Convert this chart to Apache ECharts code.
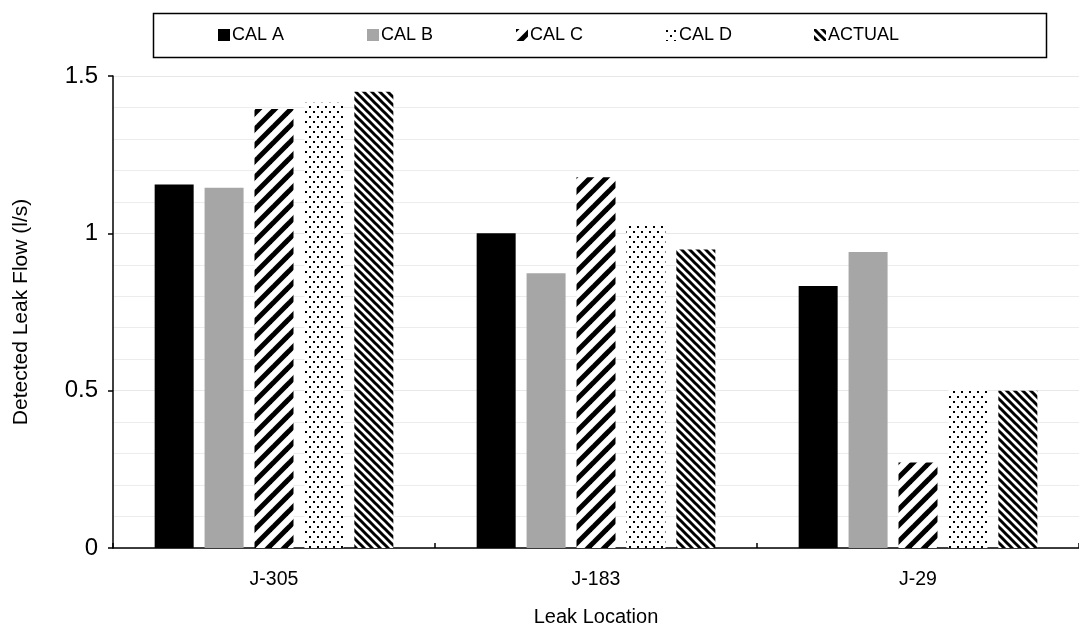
<!DOCTYPE html>
<html>
<head>
<meta charset="utf-8">
<title>Detected Leak Flow</title>
<script src="https://cdn.jsdelivr.net/npm/echarts@6/dist/echarts.min.js"></script>
<style>
  html, body { margin: 0; padding: 0; background: #fff; }
  #chart { width: 1079px; height: 632px; }
</style>
</head>
<body>
<div id="chart"></div>
<script>
// leak locations on the x axis
var categories = ['J-305', 'J-183', 'J-29']
// detected leak flow (l/s)
var calA = [1.155, 1.0, 0.833]
var calB = [1.145, 0.873, 0.941]
var calC = [1.395, 1.178, 0.272]
var calD = [1.415, 1.03, 0.502]
var actual = [1.45, 0.949, 0.5]
var seriesNames = ['CAL A', 'CAL B', 'CAL C', 'CAL D', 'ACTUAL']

// small canvas tiles used as fill patterns (like the excel hatch fills)
function tile (w, h, draw) {
  var c = document.createElement('canvas')
  c.width = w
  c.height = h
  var ctx = c.getContext('2d')
  ctx.fillStyle = '#fff'
  ctx.fillRect(0, 0, w, h)
  draw(ctx)
  return { image: c, repeat: 'repeat' }
}

// wide upward diagonal  "/"
var wideUp = tile(16, 16, function (ctx) {
  ctx.strokeStyle = '#000'
  ctx.lineWidth = 5
  ;[0, 16, 32].forEach(function (c) {
    ctx.beginPath()
    ctx.moveTo(c + 4, -4)
    ctx.lineTo(c - 20, 20)
    ctx.stroke()
  })
})
// dotted
var dots = tile(8, 10, function (ctx) {
  ctx.fillStyle = '#000'
  ctx.fillRect(1, 1, 2, 2)
  ctx.fillRect(5, 6, 2, 2)
})
// dark downward diagonal "\"
var darkDown = tile(8, 8, function (ctx) {
  ctx.strokeStyle = '#000'
  ctx.lineWidth = 3
  ;[-8, 0, 8].forEach(function (c) {
    ctx.beginPath()
    ctx.moveTo(c - 4, -4)
    ctx.lineTo(c + 12, 12)
    ctx.stroke()
  })
})

var fills = ['#000000', '#a6a6a6', wideUp, dots, darkDown]
var values = [calA, calB, calC, calD, actual]

// one legend per series so the slots are evenly spaced like in excel
var legendLeft = [218, 367, 516, 665, 814]
var legends = seriesNames.map(function (name, i) {
  return {
    top: 26,
    left: legendLeft[i],
    padding: 0,
    itemWidth: 12,
    itemHeight: 12,
    icon: 'rect',
    textStyle: { fontSize: 18, color: '#000', padding: [0, 0, 0, -3] },
    data: [name]
  }
})

var myChart = echarts.init(document.getElementById('chart'))

var option = {
  animation: false,
  textStyle: { fontFamily: 'Liberation Sans, Arial, sans-serif' },
  legend: legends,
  graphic: [{
    type: 'rect',
    left: 151,
    top: 11,
    shape: { width: 893, height: 44 },
    style: { fill: 'none', stroke: '#000', lineWidth: 1.5 },
    silent: true
  }],
  grid: {
    left: 113,
    right: -9,
    top: 76,
    bottom: 84
  },
  xAxis: {
    type: 'category',
    data: categories,
    name: 'Leak Location',
    nameLocation: 'middle',
    nameGap: 59,
    nameTextStyle: { fontSize: 20, color: '#000' },
    axisLine: { lineStyle: { color: '#000', width: 1.5 } },
    axisTick: { show: true, inside: true, length: 5, lineStyle: { color: '#000', width: 1.5 } },
    axisLabel: { fontSize: 19.5, color: '#000', margin: 22 }
  },
  yAxis: {
    type: 'value',
    min: 0,
    max: 1.5,
    interval: 0.5,
    name: 'Detected Leak Flow (l/s)',
    nameLocation: 'middle',
    nameGap: 81,
    nameTextStyle: { fontSize: 21, color: '#000' },
    axisLine: { show: true, lineStyle: { color: '#000', width: 1.5 } },
    axisTick: { show: true, length: 5, lineStyle: { color: '#000', width: 1.5 } },
    axisLabel: { fontSize: 24, color: '#000', margin: 15 },
    splitLine: { show: true, lineStyle: { color: '#e8e8e8', width: 1 } },
    minorTick: { show: false, splitNumber: 5 },
    minorSplitLine: { show: true, lineStyle: { color: '#ececec', width: 1 } }
  },
  series: seriesNames.map(function (name, i) {
    return {
      name: name,
      type: 'bar',
      data: values[i],
      barWidth: 39,
      barGap: '28%',
      barCategoryGap: '26%',
      itemStyle: { color: fills[i] }
    }
  })
}
myChart.setOption(option)
</script>
</body>
</html>
